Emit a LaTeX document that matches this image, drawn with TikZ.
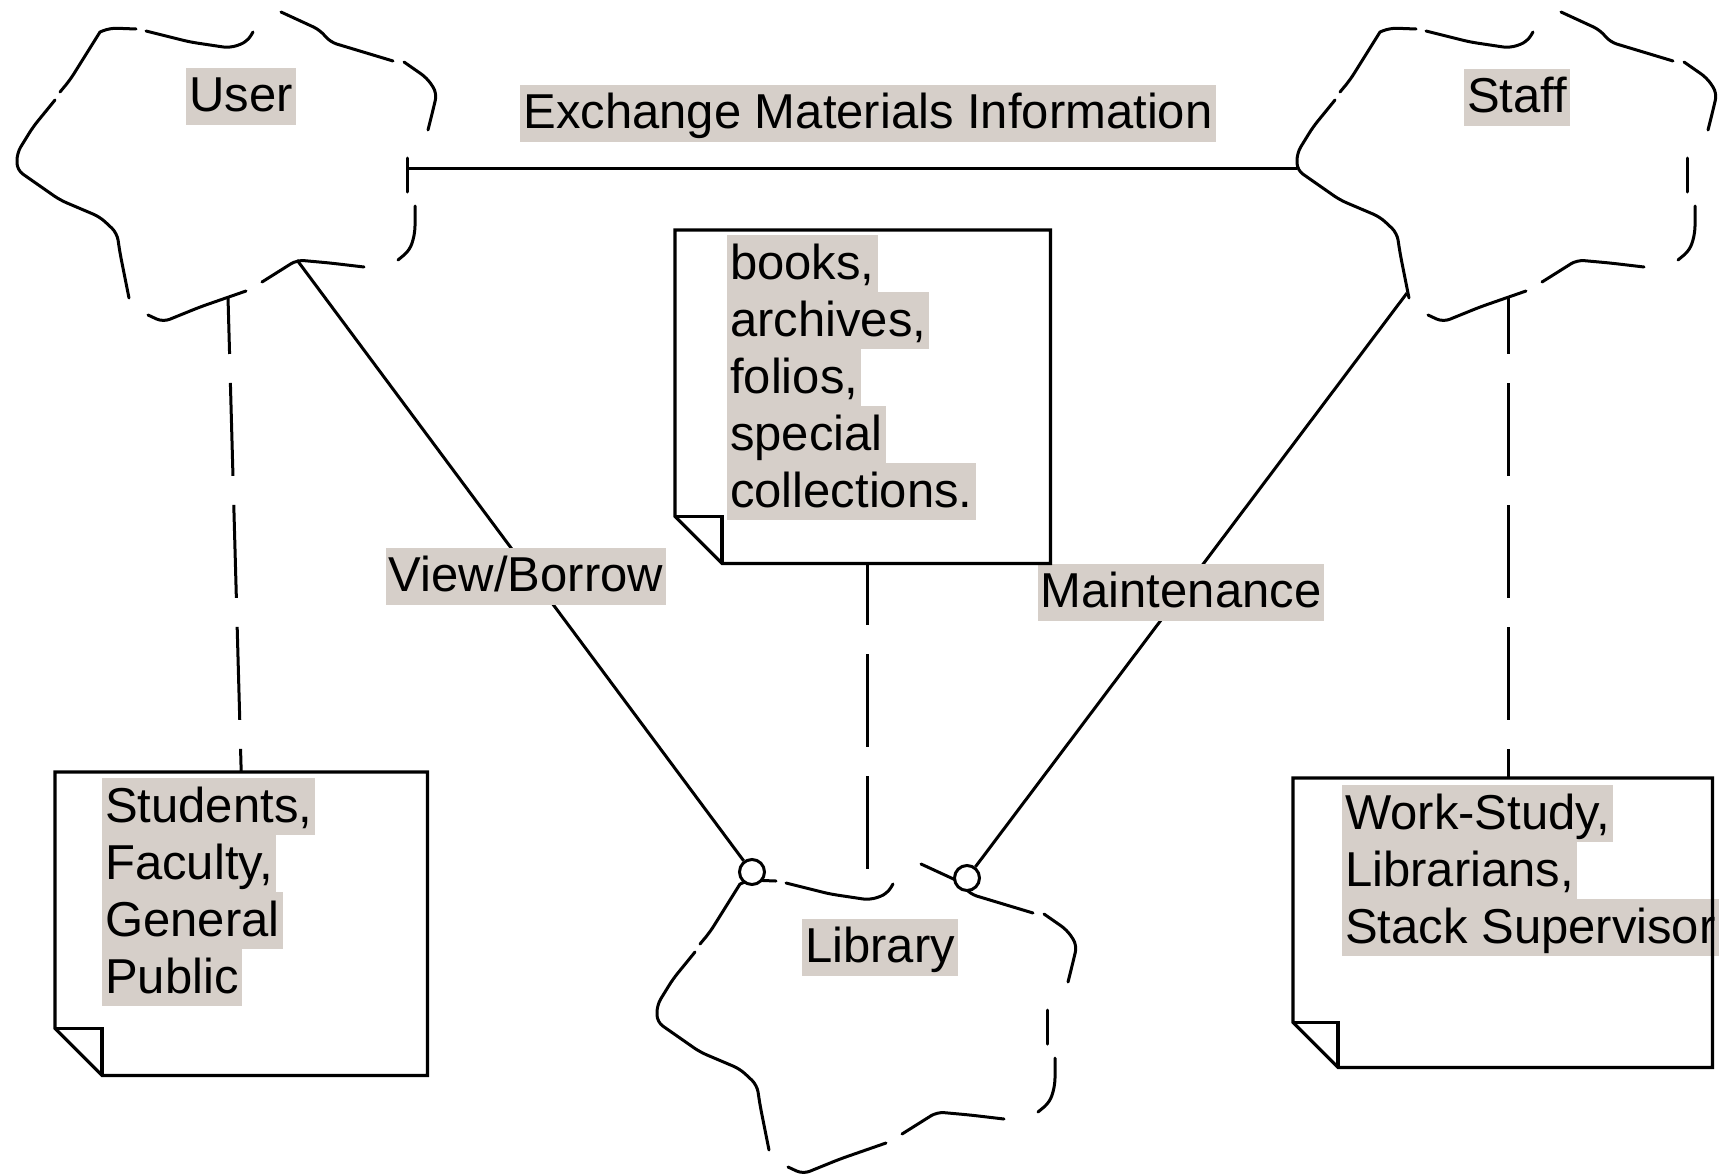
\documentclass[tikz,border=0pt]{standalone}
\usepackage{fontspec}
\setmainfont{Liberation Sans}
\usetikzlibrary{calc}
\definecolor{hlgray}{RGB}{214,207,201}

% grey text highlight, one strip per line of text
\newcommand{\hlbox}[1]{{\setlength{\fboxsep}{0pt}\colorbox{hlgray}{\hspace{3pt}\rule[-13pt]{0pt}{57pt}#1\hspace{3pt}}}}

% note outline with a folded lower-left corner
\newcommand{\drawnote}[2]{%
  \draw[noteline] (#1.north west) -- (#1.north east) -- (#1.south east)
    -- ([xshift=#2]#1.south west) -- ([yshift=#2]#1.south west) -- cycle;
  \draw[noteline] ([yshift=#2]#1.south west) -- ([xshift=#2,yshift=#2]#1.south west)
    -- ([xshift=#2]#1.south west);
}

\tikzset{
  outline/.style={line width=3pt, line join=round, line cap=round, rounded corners=7pt},
  noteline/.style={line width=3.2pt, line join=miter},
  link/.style={line width=3pt},
  dashlink/.style={line width=3pt, dash pattern=on 93pt off 29pt, dash phase=36pt},
  lbl/.style={inner sep=0pt, font=\fontsize{49}{57}\selectfont},
  notetext/.style={lbl, align=left, anchor=north west},
  notearea/.style={inner sep=0pt, anchor=north west},
  assoc/.style={circle, draw, line width=3pt, fill=white, minimum size=25pt, inner sep=0pt},
  cloudline/.pic={
    \draw[outline] (100,32) -- (110,28) -- (136,29);
    \draw[outline] (146,31) -- (190,42) -- (230,48) -- (247,42) -- (253,32);
    \draw[outline] (281,12) -- (320,30) -- (330,42) -- (393,61);
    \draw[outline] (404,62) -- (427,78) -- (437,93) -- (433,110) -- (428,130);
    \draw[outline] (407,158) -- (407,192);
    \draw[outline] (415,206) -- (415,233) -- (410,250) -- (398,260);
    \draw[outline] (364,267) -- (330,263) -- (297,260) -- (262,282);
    \draw[outline] (246,291) -- (200,307) -- (163,322) -- (148,315);
    \draw[outline] (129,298) -- (120,253) -- (117,233) -- (100,217) -- (60,200)
      -- (17,170) -- (17,153) -- (33,127) -- (55,100);
    \draw[outline] (60,92) -- (70,80) -- (100,32);
    \coordinate (-right) at (407,168);
    \coordinate (-left) at (17,168);
    \coordinate (-bot) at (228,297);
    \coordinate (-brk) at (297,260);
    \coordinate (-blv) at (127,293);
    \coordinate (-top) at (227,20);
    \coordinate (-lc) at (112,20);
    \coordinate (-rc) at (327,26);
  }
}

\begin{document}
\begin{tikzpicture}[x=1pt, y=-1pt]
  \fill[white] (0,0) rectangle (1726,1175);
  \useasboundingbox (0,0) rectangle (1726,1175);

  % actors and the library
  \pic (user)  at (0,0)     {cloudline};
  \pic (staff) at (1280,0)  {cloudline};
  \pic (lib)   at (640,852) {cloudline};

  % note areas
  \node[notearea, minimum width=372pt, minimum height=303pt] (stud) at (55,772) {};
  \node[notearea, minimum width=375pt, minimum height=333pt] (books) at (675,230) {};
  \node[notearea, minimum width=419pt, minimum height=289pt] (staffnote) at (1293,778) {};

  % associations
  \draw[link] (user-right) -- (staff-left);
  \node[assoc] (lcirc) at (lib-lc) {};
  \node[assoc] (rcirc) at (lib-rc) {};
  \draw[link] (user-brk) -- (lcirc);
  \draw[link] (staff-blv) -- (rcirc);

  % note attachments
  \draw[dashlink] (user-bot) -- (stud.north);
  \draw[dashlink] (staff-bot) -- (staff-bot |- staffnote.north);
  \draw[dashlink, dash phase=31pt] (lib-top |- books.south) -- (lib-top);

  % names and labels
  \node[lbl] (userlbl)  at (241,96)   {\hlbox{User}};
  \node[lbl] (stafflbl) at (1517,97)  {\hlbox{Staff}};
  \node[lbl] (liblbl)   at (880,947)  {\hlbox{Library}};
  \node[lbl] (exch)     at (868,113)  {\hlbox{Exchange Materials Information}};
  \node[lbl] (vb)       at (526,576)  {\hlbox{View/Borrow}};
  \node[lbl] (mt)       at (1181,592) {\hlbox{Maintenance}};

  % note contents
  \node[notetext] (studtxt) at (102,778)
    {\hlbox{Students,}\\\hlbox{Faculty,}\\\hlbox{General}\\\hlbox{Public}};
  \node[notetext] (bookstxt) at (727,235)
    {\hlbox{books,}\\\hlbox{archives,}\\\hlbox{folios,}\\\hlbox{special}\\\hlbox{collections.}};
  \node[notetext] (stafftxt) at (1342,785)
    {\hlbox{Work-Study,}\\\hlbox{Librarians,}\\\hlbox{Stack Supervisor}};

  % note outlines
  \drawnote{stud}{47pt}
  \drawnote{books}{47pt}
  \drawnote{staffnote}{45pt}
\end{tikzpicture}
\end{document}
